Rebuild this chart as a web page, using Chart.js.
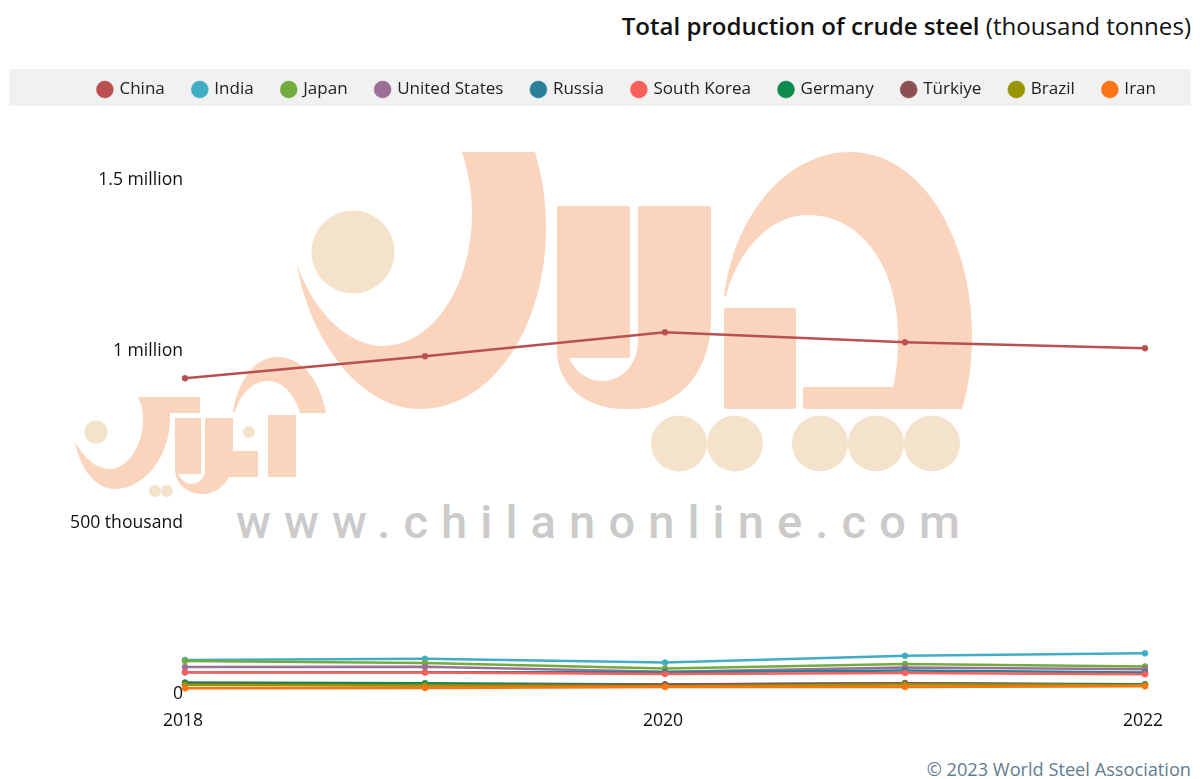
<!DOCTYPE html>
<html>
<head>
<meta charset="utf-8">
<style>
html,body{margin:0;padding:0;background:#fff;font-family:"Open Sans",sans-serif;}
#stage{position:relative;width:1200px;height:779px;overflow:hidden;}
#stage>*{position:absolute;}
#band{left:9px;top:69px;width:1182px;height:37px;background:#f1f1f1;}
#mark{left:0;top:0;}
#title{right:9px;top:10px;font-size:24.1px;line-height:32px;color:#111;white-space:nowrap;}
#title b{font-weight:600;}
#credit{right:9px;top:757px;font-size:18.2px;line-height:24px;color:#5f7c90;white-space:nowrap;}
#wrap{left:0;top:0;width:1200px;height:779px;}
</style>
<script src="https://cdn.jsdelivr.net/npm/chart.js@4"></script>
</head>
<body>
<div id="stage">
  <div id="band"></div>
  <svg id="mark" width="1200" height="779" viewBox="0 0 1200 779">
    <g fill="#fad4bc">
      <path d="M297 265C315 315 350 346 383 346C430 346 472 290 472 213C472 190 468 170 462 152L535 152C542 175 546 200 546 227C546 330 490 409 420 409C360 409 310 340 297 265Z"/>
      <path d="M559 206L628 206Q630 206 630 208L630 356Q630 358 628 358L569 358C575 372 588 381 602 381C622 381 638 365 638 340L638 208Q638 206 640 206L709 206Q711 206 711 208L711 320C711 370 680 409 632 409L625 409C585 409 557 385 557 350L557 208Q557 206 559 206Z"/>
      <rect x="724" y="308" width="72" height="101" rx="3"/>
      <path d="M724 296C735 210 790 152 850 152C920 152 972 235 972 337C972 365 968 390 962 409L806 409Q803 409 803 406L803 390Q803 387 806 387L893 387C897 370 898 355 898 337C898 265 860 215 808 215C770 215 738 250 726 296Z"/>
      <path d="M75 442C84 458 96 469 110 469C128 469 143 445 143 420C143 410 141 403 138 397L200 397L200 413L170 413C172 455 145 489 115 489C95 489 80 468 75 442Z"/>
      <path d="M175 418L201 418L201 474L178 474C182 481 187 484 191 484C199 484 205 478 205 470L205 418L233 418L233 451L258 451L258 477L229 477C224 487 214 494 203 494C187 494 175 484 175 468Z"/>
      <rect x="268" y="415" width="28" height="62"/>
      <path d="M233 412C238 380 255 357 277 357C302 357 320 380 326 413L300 413C295 395 283 381 268 381C252 381 240 395 235 412Z"/>
    </g>
    <g fill="#f4e2cb">
      <circle cx="353" cy="252" r="41.5"/>
      <circle cx="679" cy="443.5" r="28"/>
      <circle cx="735" cy="443.5" r="28"/>
      <circle cx="820" cy="443.5" r="28"/>
      <circle cx="876" cy="443.5" r="28"/>
      <circle cx="932" cy="443.5" r="28"/>
      <circle cx="96" cy="432" r="11.5"/>
      <circle cx="249" cy="432" r="6"/>
      <circle cx="155" cy="491" r="6"/>
      <circle cx="167" cy="491" r="6"/>
    </g>
    <text x="236" y="538" textLength="724" lengthAdjust="spacing" font-family="Roboto" font-weight="500" font-size="47" fill="#cacaca">www.chilanonline.com</text>
  </svg>
  <div id="title"><b>Total production of crude steel</b> (thousand tonnes)</div>
  <div id="credit">© 2023 World Steel Association</div>
  <div id="wrap"><canvas id="c" width="1200" height="779"></canvas></div>
</div>
<script>
const categories = ['2018','2019','2020','2021','2022'];
const yTicks = [0, 500000, 1000000, 1500000];
const yTickLabels = ['0','500 thousand','1 million','1.5 million'];
const china = [930000, 994000, 1064000, 1035000, 1018000];
const india = [108000, 111000, 100000, 120000, 127000];
const japan = [105000, 99000, 83000, 96000, 89000];
const unitedStates = [87000, 88000, 73000, 86000, 81000];
const russia = [72000, 72000, 72000, 77000, 71000];
const southKorea = [72000, 71000, 67000, 70000, 66000];
const germany = [42000, 40000, 36000, 40000, 37000];
const turkiye = [37000, 34000, 36000, 40000, 35000];
const brazil = [35000, 33000, 31000, 36000, 34000];
const iran = [25000, 26000, 29000, 29000, 31000];

const seriesNames = ['China','India','Japan','United States','Russia','South Korea','Germany','Türkiye','Brazil','Iran'];
const seriesValues = [china,india,japan,unitedStates,russia,southKorea,germany,turkiye,brazil,iran];
const seriesColors = ['#b9504f','#41adc4','#72ac3f','#9c7096','#2b7f98','#fa5f5a','#0e8a4f','#8c5054','#989500','#fc7414'];

const legendHeight = {
  id:'legendHeight',
  beforeLayout(chart){
    const L = chart.legend;
    if (L && !L._fitWrapped){
      const fit = L.fit;
      L.fit = function(){ fit.call(this); this.height = 131; };
      L._fitWrapped = true;
    }
  }
};

new Chart(document.getElementById('c'), {
  type:'line',
  data:{
    labels:categories,
    datasets:seriesNames.map((n,i)=>({
      label:n,
      data:seriesValues[i],
      order:seriesNames.length - i,
      borderColor:seriesColors[i],
      backgroundColor:seriesColors[i],
      pointBackgroundColor:seriesColors[i],
      pointBorderColor:seriesColors[i],
      borderWidth:2.5,
      pointRadius:3,
      pointBorderWidth:0.5,
      tension:0,
      fill:false,
      yAxisID:'y'
    }))
  },
  options:{
    responsive:false,
    animation:false,
    layout:{padding:{top:52,left:0,right:15,bottom:41}},
    plugins:{
      tooltip:{enabled:false},
      legend:{
        position:'top',
        align:'end',
        onClick:null,
        labels:{
          usePointStyle:true,
          pointStyle:'circle',
          boxWidth:12,
          boxHeight:12,
          padding:29,
          color:'#222',
          font:{family:'"Open Sans"',size:17.05},
          sort:(a,b)=>a.datasetIndex-b.datasetIndex
        }
      }
    },
    scales:{
      x:{
        offset:false,
        grid:{display:false},
        border:{display:false},
        ticks:{
          autoSkip:false,
          maxRotation:0,
          labelOffset:-2,
          padding:6,
          color:'#111',
          font:{family:'"Open Sans"',size:17.6},
          callback(v,i){ return i%2===0 ? categories[i] : ''; }
        }
      },
      y:{
        min:0,
        max:1500000,
        afterBuildTicks(s){ s.ticks = yTicks.map(v=>({value:v})); },
        afterFit(s){ s.width = 185; },
        grid:{display:false,drawTicks:false},
        border:{display:false},
        ticks:{
          labelOffset:-3,
          padding:2,
          color:'#111',
          font:{family:'"Open Sans"',size:17.6},
          callback(v){ return yTickLabels[yTicks.indexOf(v)]; }
        }
      },
      y2:{
        position:'right',
        display:true,
        afterFit(s){ s.width = 40; },
        grid:{display:false},
        border:{display:false},
        ticks:{display:false}
      }
    }
  },
  plugins:[legendHeight]
});
</script>
</body>
</html>
